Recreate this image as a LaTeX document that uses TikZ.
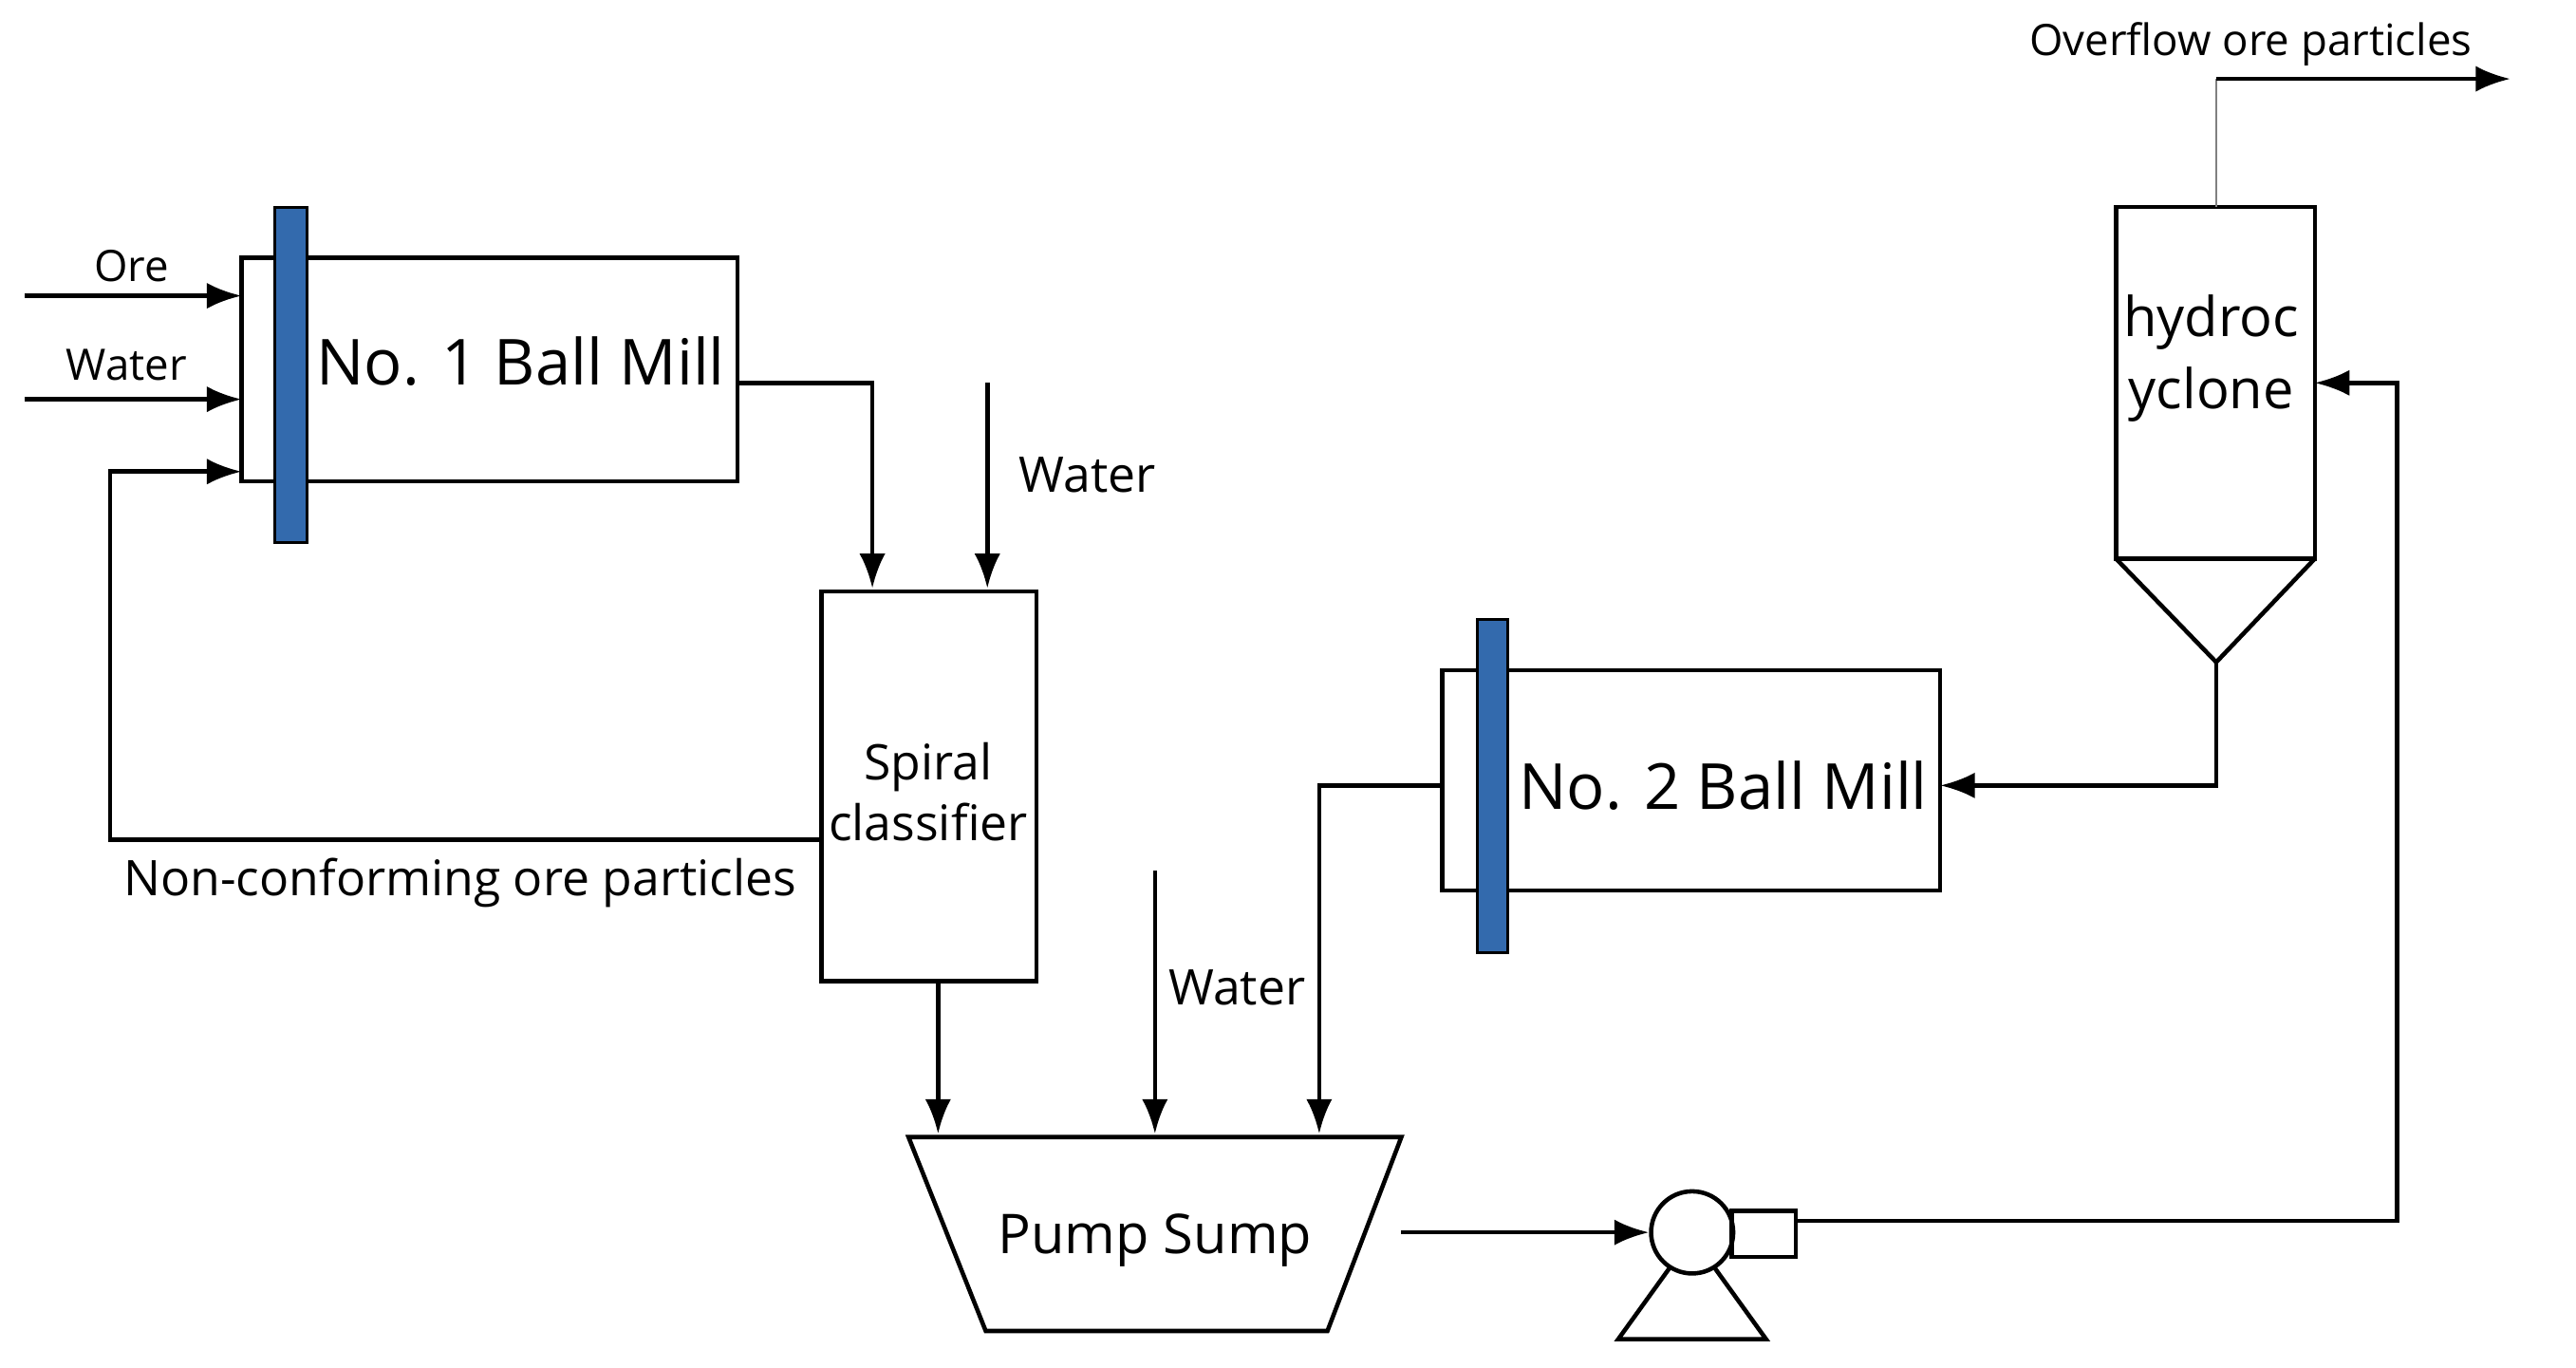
\documentclass[tikz,border=0pt]{standalone}
\usepackage{fontspec}
\setmainfont{Open Sans}
\usetikzlibrary{arrows.meta}
\begin{document}
\begin{tikzpicture}[x=0.02cm,y=-0.02cm,
  ln/.style={line width=1.5pt,draw=black},
  arr/.style={ln,-{Latex[length=12pt,width=9pt]}},
  box/.style={ln,fill=white},
  bar/.style={draw=black,line width=1pt,fill=blue!55!cyan!60!black!80},
  big/.style={font=\fontsize{22}{26}\selectfont},
  cy/.style={font=\fontsize{19}{23}\selectfont},
  mid/.style={font=\fontsize{17}{21}\selectfont},
  sm/.style={font=\fontsize{15}{18}\selectfont}]
\useasboundingbox (0,0) rectangle (1568,832.5);
% Mill 1
\draw[box] (147,157) rectangle (449,293);
\node[bar,minimum width=0.4cm,minimum height=4.08cm,inner sep=0] (bar1) at (177,228) {};
\node[big] (mill1) at (317,220) {No. 1 Ball Mill};
\coordinate (oreS) at (15,180); \coordinate (oreE) at (147,180);
\coordinate (watS) at (15,243); \coordinate (watE) at (147,243);
\draw[arr] (oreS) -- (oreE);
\draw[arr] (watS) -- (watE);
\node[sm] (orel) at (80,162) {Ore};
\node[sm] (watl) at (77,222) {Water};
% classifier
\draw[box] (500,360) rectangle (631,597);
\node[mid,align=center] (cls) at (565,482) {Spiral\\classifier};
\coordinate (m1o) at (449,233); \coordinate (c1) at (531,233); \coordinate (c1e) at (531,358);
\draw[arr] (m1o) -- (c1) -- (c1e);
\coordinate (w2s) at (601,233); \coordinate (w2e) at (601,358);
\draw[arr] (w2s) -- (w2e);
\node[mid] (w2l) at (662,289) {Water};
% return
\coordinate (r1) at (500,511); \coordinate (r2) at (67,511); \coordinate (r3) at (67,287); \coordinate (r4) at (147,287);
\draw[arr] (r1) -- (r2) -- (r3) -- (r4);
\node[mid] (ncl) at (280,537) {Non-conforming ore particles};
% sump
\draw[ln] (553,692) -- (853,692) -- (808,810) -- (600,810) -- cycle;
\node[cy] (sump) at (703,755) {Pump Sump};
\coordinate (cs) at (571,597); \coordinate (ce) at (571,690);
\draw[arr] (cs) -- (ce);
\coordinate (w3s) at (703,530); \coordinate (w3e) at (703,690);
\draw[arr] (w3s) -- (w3e);
\node[mid] (w3l) at (753,601) {Water};
% mill 2
\draw[box] (878,408) rectangle (1181,542);
\node[bar,minimum width=0.38cm,minimum height=4.06cm,inner sep=0] (bar2) at (908.5,478.5) {};
\node[big] (mill2) at (1049,478) {No. 2 Ball Mill};
\coordinate (m2o) at (878,478); \coordinate (m2a) at (803,478); \coordinate (m2b) at (803,690);
\draw[arr] (m2o) -- (m2a) -- (m2b);
% cyclone
\draw[box] (1288,126) rectangle (1409,340);
\draw[ln] (1288,340) -- (1349,403) -- (1409,340);
\node[cy,align=center,inner sep=0] (cyc) at (1346,218) {hydroc\\[2pt]yclone};
\coordinate (apex) at (1349,403); \coordinate (ap2) at (1349,478); \coordinate (m2in) at (1181,478);
\draw[arr] (apex) -- (ap2) -- (m2in);
\coordinate (ct) at (1349,126); \coordinate (ct2) at (1349,48); \coordinate (ovE) at (1528,48);
\draw[gray,line width=0.6pt] (ct) -- (ct2);
\draw[arr] (ct2) -- (ovE);
\node[sm] (ovl) at (1370,27) {Overflow ore particles};
% pump
\node[draw,line width=1.5pt,circle,minimum size=1.0cm,inner sep=0] (pump) at (1030,750) {};
\draw[ln] (1054,737) rectangle (1093,765);
\draw[ln] (1016,772) -- (985,815) -- (1075,815) -- (1044,772);
\coordinate (se) at (853,750);
\draw[arr] (se) -- (pump.west);
\coordinate (p1) at (1093,743); \coordinate (p2) at (1459,743); \coordinate (p3) at (1459,233); \coordinate (p4) at (1409,233);
\draw[arr] (p1) -- (p2) -- (p3) -- (p4);
\end{tikzpicture}
\end{document}
